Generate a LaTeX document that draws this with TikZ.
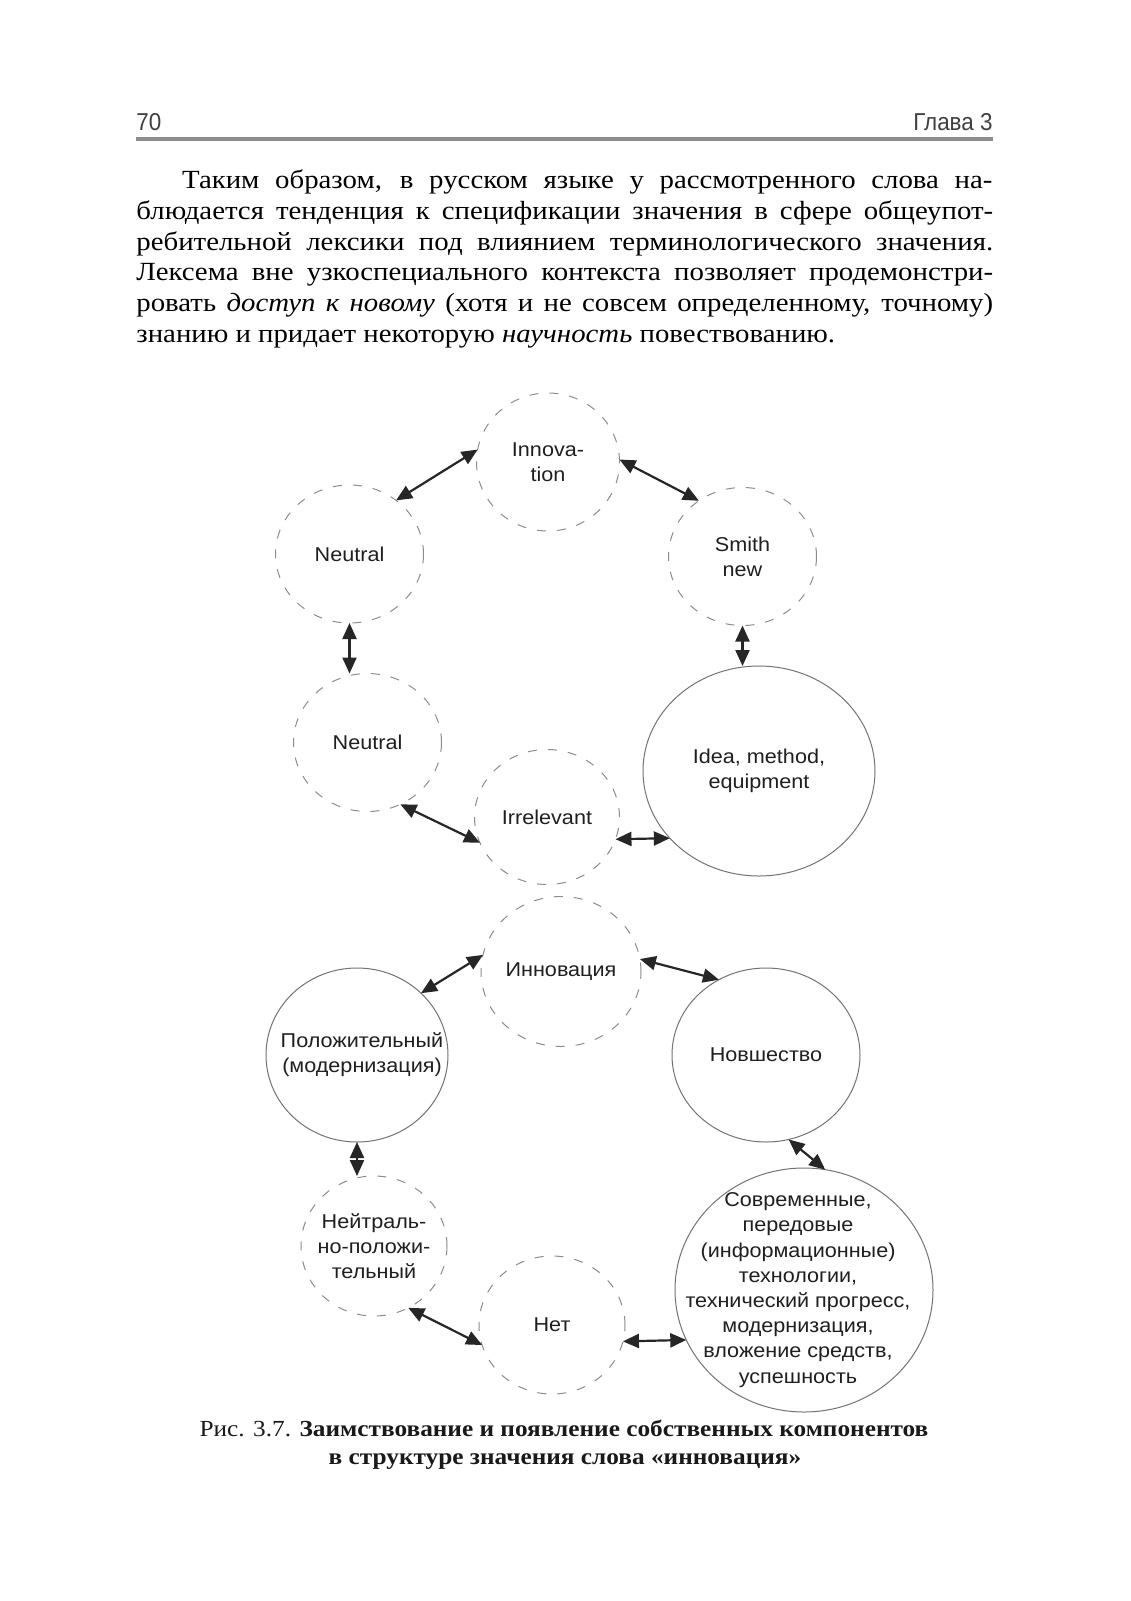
\documentclass[tikz,border=0pt]{standalone}
\usepackage{fontspec}
\setmainfont[FakeStretch=1.1]{Liberation Serif}
\newfontfamily\lab[FakeStretch=1.08]{Liberation Sans}
\newfontfamily\hdr[FakeStretch=0.92]{Liberation Sans}
\usetikzlibrary{shapes.geometric,arrows.meta}
\tikzset{
  dcirc/.style={ellipse, draw=black!45, dash pattern=on 4.5pt off 5.5pt, line width=0.5pt, inner sep=0pt, outer sep=0pt},
  scirc/.style={ellipse, draw=black!55, line width=0.5pt, inner sep=0pt, outer sep=0pt},
  lbl/.style={font=\lab\fontsize{10}{12.6}\selectfont, align=center, text=black!88, inner sep=0pt},
  biarr/.style={{Triangle[length=8pt,width=7pt]}-{Triangle[length=8pt,width=7pt]}, line width=1.1pt, draw=black!85, fill=black!85},
  bodyline/.style={font=\fontsize{13.1}{15}\selectfont, inner sep=0pt, text=black, anchor=base west},
  caption/.style={font=\fontsize{11.5}{14}\selectfont, inner sep=0pt, text=black!90, anchor=base},
  header/.style={font=\hdr\fontsize{12.2}{14}\selectfont, inner sep=0pt, text=black!75},
}
\begin{document}
\begin{tikzpicture}[x=0.5pt,y=-0.5pt]
\useasboundingbox[fill=white] (0,0) rectangle (1130,1601);

% header
\node[header, anchor=base west] (pg) at (136,130) {70};
\node[header, anchor=base east] (ch) at (993,130) {Глава 3};
\coordinate (rl) at (136,139);
\coordinate (rr) at (993,139);
\draw[line width=1.8pt, black!45] (rl) -- (rr);

% body text
\node[bodyline] (l1) at (181.7,188) {\makebox[405.2pt][s]{Таким образом, в русском языке у рассмотренного слова на-}};
\node[bodyline] (l2) at (136,219) {\makebox[428.4pt][s]{блюдается тенденция к спецификации значения в сфере общеупот-}};
\node[bodyline] (l3) at (136,250) {\makebox[428.4pt][s]{ребительной лексики под влиянием терминологического значения.}};
\node[bodyline] (l4) at (136,280) {\makebox[428.4pt][s]{Лексема вне узкоспециального контекста позволяет продемонстри-}};
\node[bodyline] (l5) at (136,311) {\makebox[428.4pt][s]{ровать \textit{доступ к новому} (хотя и не совсем определенному, точному)}};
\node[bodyline] (l6) at (136,342) {знанию и придает некоторую \textit{научность} повествованию.};

% upper diagram
\node[dcirc, minimum width=71.5pt, minimum height=69pt] (inn) at (548,462) {};
\node[dcirc, minimum width=74pt, minimum height=69pt] (smith) at (742.5,556.5) {};
\node[dcirc, minimum width=74pt, minimum height=69pt] (neuA) at (349.5,554) {};
\node[dcirc, minimum width=74pt, minimum height=69pt] (neuB) at (367.5,742.5) {};
\node[dcirc, minimum width=72.5pt, minimum height=67.5pt] (irr) at (547,817) {};
\node[scirc, minimum width=116pt, minimum height=105pt] (idea) at (759,771) {};

\node[lbl] (innL) at (inn) {Innova-\\tion};
\node[lbl] (smithL) at (smith) {Smith\\new};
\node[lbl] (neuAL) at (neuA) {Neutral};
\node[lbl] (neuBL) at (neuB) {Neutral};
\node[lbl] (irrL) at (irr) {Irrelevant};
\node[lbl] (ideaL) at (idea) {Idea, method,\\equipment};

\draw[biarr] (neuA.49) -- (inn.170);
\draw[biarr] (inn.2) -- (smith.128);
\draw[biarr] (neuA.south) -- (neuA.south |- neuB.north);
\draw[biarr] (smith.south) -- (smith.south |- idea.north);
\draw[biarr] (neuB.-62) -- (irr.201);
\draw[biarr] (irr.-18) -- (idea.217);

% lower diagram
\node[dcirc, minimum width=80pt, minimum height=75pt] (innR) at (561,971.5) {};
\node[scirc, minimum width=91pt, minimum height=87pt] (pos) at (357,1055) {};
\node[scirc, minimum width=94pt, minimum height=87pt] (nov) at (766,1055) {};
\node[dcirc, minimum width=73pt, minimum height=70pt] (ntr) at (374,1246) {};
\node[dcirc, minimum width=73pt, minimum height=69pt] (net) at (552,1325) {};
\node[scirc, minimum width=129pt, minimum height=122pt] (sov) at (804,1290) {};

\node[lbl] (innRL) at (innR) {Инновация};
\node[lbl] (posL) at (362,1055) {Положительный\\(модернизация)};
\node[lbl] (novL) at (nov) {Новшество};
\node[lbl] (ntrL) at (ntr) {Нейтраль-\\но-положи-\\тельный};
\node[lbl] (netL) at (net) {Нет};
\node[lbl] (sovL) at (798,1290) {Современные,\\передовые\\(информационные)\\технологии,\\технический прогресс,\\модернизация,\\вложение средств,\\успешность};

\draw[biarr] (pos.44) -- (innR.168);
\draw[biarr] (innR.9) -- (nov.122);
\draw[biarr] (pos.south) -- (pos.south |- ntr.north);
\draw[biarr] (nov.-75) -- (sov.80);
\draw[biarr] (ntr.-61) -- (net.196);
\draw[biarr] (net.-13) -- (sov.203);

% caption
\node[caption] (cap1) at (564,1436) {Рис. 3.7. \textbf{Заимствование и появление собственных компонентов}};
\node[caption] (cap2) at (565,1464) {\textbf{в структуре значения слова «инновация»}};
\end{tikzpicture}
\end{document}
